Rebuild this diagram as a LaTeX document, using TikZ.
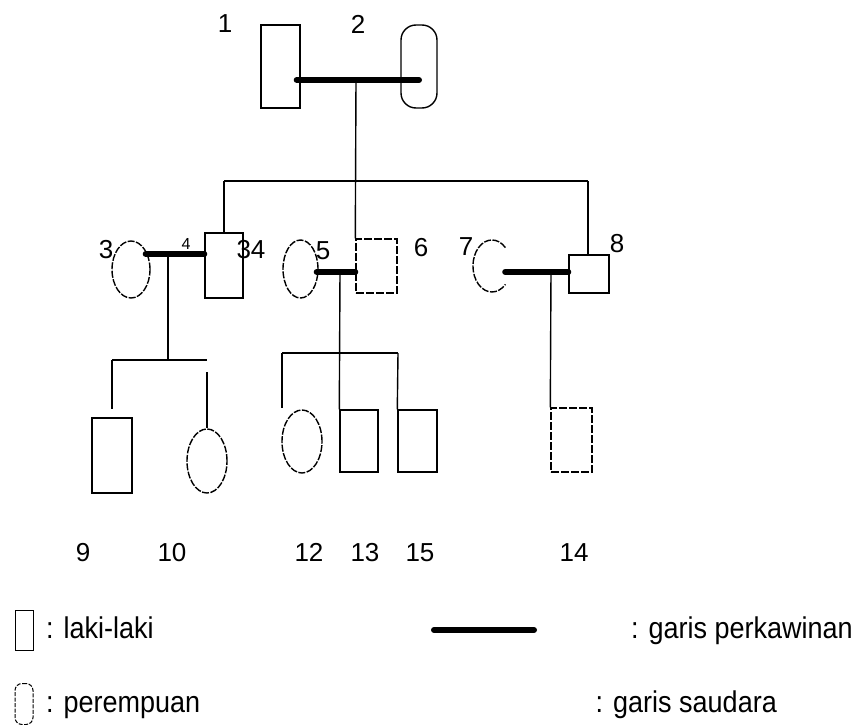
\documentclass[tikz,border=0pt]{standalone}
\usepackage{fontspec}
\usepackage{graphicx}
\setmainfont{Liberation Sans}
\usetikzlibrary{shapes.geometric,calc}
\tikzset{
 base/.style={line width=1.4pt, draw=black},
 mbox/.style={draw, base, rectangle, inner sep=0pt},
 mboxd/.style={mbox, dash pattern=on 8pt off 2pt},
 fem/.style={draw, base, ellipse, inner sep=0pt, dash pattern=on 7pt off 1.5pt},
 femr/.style={draw, base, rectangle, rounded corners=15pt, inner sep=0pt},
 marr/.style={line width=6pt, line cap=round},
 kin/.style={base},
 num/.style={font=\fontsize{26}{30}\selectfont, inner sep=0pt},
 numb/.style={num, anchor=base},
 smallnum/.style={font=\fontsize{16}{18}\selectfont, inner sep=0pt},
 leg/.style={font=\fontsize{30}{34}\selectfont, inner sep=0pt},
}
\newcommand{\legtext}[1]{\scalebox{0.9}[1]{#1}}
\begin{document}
\begin{tikzpicture}[x=1pt,y=-1pt]
\useasboundingbox (0,0) rectangle (855,725);
% generation 1
\node[mbox, minimum width=39pt, minimum height=83pt] (b1) at (280.5,66.5) {};
\node[femr, minimum width=36pt, minimum height=83pt] (e2) at (419,66.5) {};
% generation 2
\node[fem, minimum width=38pt, minimum height=57pt] (e3) at (131,269.5) {};
\node[mbox, minimum width=38pt, minimum height=65pt] (b4) at (224,265.5) {};
\node[fem, minimum width=35pt, minimum height=58pt] (e5) at (300.5,269) {};
\node[mboxd, minimum width=41pt, minimum height=54pt] (b6) at (376.5,266) {};
\node[ellipse, inner sep=0pt, minimum width=38pt, minimum height=52pt] (e7) at (492,266) {};
\draw[kin, dash pattern=on 7pt off 1.5pt] ([xshift=13.4pt, yshift=18.4pt]e7.center) arc[start angle=45, end angle=315, x radius=19pt, y radius=26pt];
\node[mbox, minimum width=40pt, minimum height=38pt] (b8) at (589,274) {};
% generation 3
\node[mbox, minimum width=40pt, minimum height=75pt] (b9) at (112,455.5) {};
\node[fem, minimum width=40pt, minimum height=64pt] (e10) at (207,461) {};
\node[fem, minimum width=40pt, minimum height=63pt] (e12) at (302,441.5) {};
\node[mbox, minimum width=38pt, minimum height=62pt] (b13) at (359,441) {};
\node[mbox, minimum width=39pt, minimum height=62pt] (b15) at (417.5,441) {};
\node[mboxd, minimum width=41pt, minimum height=64pt] (b14) at (571.5,440) {};
% coordinates
\coordinate (m1) at (356,80);
\coordinate (sl) at (224,181);
\coordinate (sr) at (588,181);
\coordinate (m2) at (168,254);
\coordinate (c1) at (168,360);
\coordinate (c1l) at (112,360);
\coordinate (c1r) at (207,360);
\coordinate (d9) at (112,409);
\coordinate (d10) at (207,372);
\coordinate (m3) at (340,272);
\coordinate (c2l) at (282,353);
\coordinate (c2r) at (398,353);
\coordinate (d12) at (282,408);
\coordinate (m4) at (551,272);
% sibling / descent lines
\draw[kin] (m1) -- (b6.north west);
\draw[kin] (sl) -- (sr);
\draw[kin] (sl) -- (b4.north);
\draw[kin] (sr) -- (sr |- b8.north);
\draw[kin] (m2) -- (c1);
\draw[kin] (c1l) -- (c1r);
\draw[kin] (c1l) -- (d9);
\draw[kin] (d10) -- (e10.north);
\draw[kin] (m3) -- (b13.north west);
\draw[kin] (c2l) -- (c2r);
\draw[kin] (c2l) -- (d12);
\draw[kin] (c2r) -- (b15.north west);
\draw[kin] (m4) -- (b14.north west);
% marriage lines
\draw[marr] ([xshift=-4pt]b1.east |- m1) -- (e2.center |- m1);
\draw[marr] ([xshift=-5pt]e3.east |- m2) -- (b4.west |- m2);
\draw[marr] ([xshift=-2pt]e5.east |- m3) -- (b6.west |- m3);
\draw[marr] ([xshift=-6pt]e7.east |- m4) -- (b8.west |- m4);
% labels
\node[num] (l1) at (225,24) {1};
\node[num] (l2) at (358,24) {2};
\node[num] (l3) at (106,250) {3};
\node[smallnum] (l4) at (186,244) {4};
\node[num] (l34) at (251,250) {34};
\node[num] (l5) at (323,251) {5};
\node[num] (l6) at (421,248) {6};
\node[num] (l7) at (466,247) {7};
\node[num] (l8) at (617,244) {8};
\node[numb] (l9) at (83,561) {9};
\node[numb] (l10) at (172,561) {10};
\node[numb] (l12) at (309,561) {12};
\node[numb] (l13) at (365,561) {13};
\node[numb] (l15) at (420,561) {15};
\node[numb] (l14) at (574,561) {14};
% legend
\node[mbox, line width=1pt, minimum width=18pt, minimum height=40pt] (lgm) at (24,630) {};
\node[leg, anchor=base west] (lgmt) at (46,638) {\legtext{: laki-laki}};
\coordinate (lga) at (434,630);
\coordinate (lgb) at (534,630);
\draw[marr] (lga) -- (lgb);
\node[leg, anchor=base east] (lgpt) at (853,638) {\legtext{: garis perkawinan}};
\node[draw, line width=1pt, rounded corners=7pt, dash pattern=on 4pt off 1.5pt, inner sep=0pt, minimum width=18pt, minimum height=41pt] (lgf) at (24,704) {};
\node[leg, anchor=base west] (lgft) at (46,712) {\legtext{: perempuan}};
\node[leg, anchor=base east] (lgst) at (777,712) {\legtext{: garis saudara}};
\end{tikzpicture}
\end{document}
